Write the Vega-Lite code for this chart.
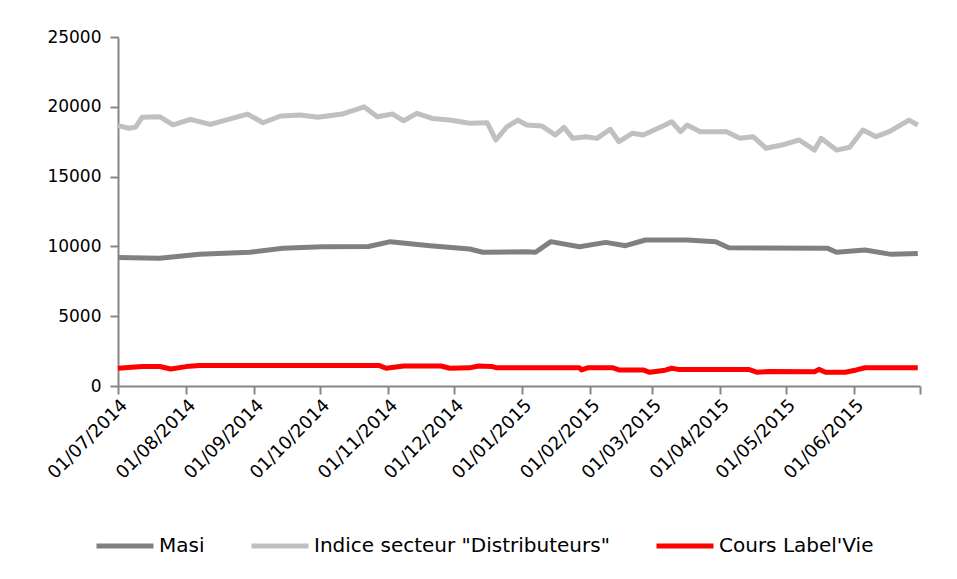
{
  "$schema": "https://vega.github.io/schema/vega-lite/v6.json",
  "width": 802,
  "height": 349,
  "autosize": {"type": "none"},
  "padding": {"left": 118, "top": 37, "right": 37, "bottom": 193},
  "background": "white",
  "config": {
    "view": {"stroke": null},
    "font": "DejaVu Sans"
  },
  "data": {
    "values": [
      {"date": "2014-07-01", "series": "Masi", "value": 9200},
      {"date": "2014-07-20", "series": "Masi", "value": 9150},
      {"date": "2014-08-07", "series": "Masi", "value": 9430},
      {"date": "2014-08-30", "series": "Masi", "value": 9580},
      {"date": "2014-09-14", "series": "Masi", "value": 9860},
      {"date": "2014-10-02", "series": "Masi", "value": 9980},
      {"date": "2014-10-23", "series": "Masi", "value": 9990},
      {"date": "2014-11-02", "series": "Masi", "value": 10340},
      {"date": "2014-11-20", "series": "Masi", "value": 10050},
      {"date": "2014-12-08", "series": "Masi", "value": 9810},
      {"date": "2014-12-14", "series": "Masi", "value": 9580},
      {"date": "2015-01-03", "series": "Masi", "value": 9620},
      {"date": "2015-01-07", "series": "Masi", "value": 9580},
      {"date": "2015-01-14", "series": "Masi", "value": 10340},
      {"date": "2015-01-27", "series": "Masi", "value": 9980},
      {"date": "2015-02-08", "series": "Masi", "value": 10290},
      {"date": "2015-02-17", "series": "Masi", "value": 10050},
      {"date": "2015-02-26", "series": "Masi", "value": 10460},
      {"date": "2015-03-17", "series": "Masi", "value": 10460},
      {"date": "2015-03-30", "series": "Masi", "value": 10340},
      {"date": "2015-04-05", "series": "Masi", "value": 9910},
      {"date": "2015-05-20", "series": "Masi", "value": 9860},
      {"date": "2015-05-24", "series": "Masi", "value": 9580},
      {"date": "2015-06-06", "series": "Masi", "value": 9740},
      {"date": "2015-06-18", "series": "Masi", "value": 9430},
      {"date": "2015-06-30", "series": "Masi", "value": 9500},

      {"date": "2014-07-01", "series": "Indice secteur \"Distributeurs\"", "value": 18650},
      {"date": "2014-07-06", "series": "Indice secteur \"Distributeurs\"", "value": 18460},
      {"date": "2014-07-09", "series": "Indice secteur \"Distributeurs\"", "value": 18550},
      {"date": "2014-07-12", "series": "Indice secteur \"Distributeurs\"", "value": 19250},
      {"date": "2014-07-20", "series": "Indice secteur \"Distributeurs\"", "value": 19290},
      {"date": "2014-07-26", "series": "Indice secteur \"Distributeurs\"", "value": 18700},
      {"date": "2014-08-03", "series": "Indice secteur \"Distributeurs\"", "value": 19100},
      {"date": "2014-08-12", "series": "Indice secteur \"Distributeurs\"", "value": 18740},
      {"date": "2014-08-19", "series": "Indice secteur \"Distributeurs\"", "value": 19050},
      {"date": "2014-08-29", "series": "Indice secteur \"Distributeurs\"", "value": 19480},
      {"date": "2014-09-05", "series": "Indice secteur \"Distributeurs\"", "value": 18860},
      {"date": "2014-09-13", "series": "Indice secteur \"Distributeurs\"", "value": 19340},
      {"date": "2014-09-22", "series": "Indice secteur \"Distributeurs\"", "value": 19410},
      {"date": "2014-09-30", "series": "Indice secteur \"Distributeurs\"", "value": 19250},
      {"date": "2014-10-11", "series": "Indice secteur \"Distributeurs\"", "value": 19480},
      {"date": "2014-10-21", "series": "Indice secteur \"Distributeurs\"", "value": 20000},
      {"date": "2014-10-27", "series": "Indice secteur \"Distributeurs\"", "value": 19290},
      {"date": "2014-11-03", "series": "Indice secteur \"Distributeurs\"", "value": 19480},
      {"date": "2014-11-08", "series": "Indice secteur \"Distributeurs\"", "value": 19000},
      {"date": "2014-11-14", "series": "Indice secteur \"Distributeurs\"", "value": 19530},
      {"date": "2014-11-21", "series": "Indice secteur \"Distributeurs\"", "value": 19170},
      {"date": "2014-11-29", "series": "Indice secteur \"Distributeurs\"", "value": 19050},
      {"date": "2014-12-08", "series": "Indice secteur \"Distributeurs\"", "value": 18820},
      {"date": "2014-12-16", "series": "Indice secteur \"Distributeurs\"", "value": 18860},
      {"date": "2014-12-20", "series": "Indice secteur \"Distributeurs\"", "value": 17620},
      {"date": "2014-12-25", "series": "Indice secteur \"Distributeurs\"", "value": 18570},
      {"date": "2014-12-30", "series": "Indice secteur \"Distributeurs\"", "value": 19050},
      {"date": "2015-01-03", "series": "Indice secteur \"Distributeurs\"", "value": 18700},
      {"date": "2015-01-10", "series": "Indice secteur \"Distributeurs\"", "value": 18620},
      {"date": "2015-01-16", "series": "Indice secteur \"Distributeurs\"", "value": 17980},
      {"date": "2015-01-20", "series": "Indice secteur \"Distributeurs\"", "value": 18530},
      {"date": "2015-01-24", "series": "Indice secteur \"Distributeurs\"", "value": 17740},
      {"date": "2015-01-30", "series": "Indice secteur \"Distributeurs\"", "value": 17860},
      {"date": "2015-02-04", "series": "Indice secteur \"Distributeurs\"", "value": 17740},
      {"date": "2015-02-10", "series": "Indice secteur \"Distributeurs\"", "value": 18390},
      {"date": "2015-02-14", "series": "Indice secteur \"Distributeurs\"", "value": 17500},
      {"date": "2015-02-20", "series": "Indice secteur \"Distributeurs\"", "value": 18100},
      {"date": "2015-02-25", "series": "Indice secteur \"Distributeurs\"", "value": 17980},
      {"date": "2015-03-06", "series": "Indice secteur \"Distributeurs\"", "value": 18620},
      {"date": "2015-03-10", "series": "Indice secteur \"Distributeurs\"", "value": 18930},
      {"date": "2015-03-14", "series": "Indice secteur \"Distributeurs\"", "value": 18220},
      {"date": "2015-03-17", "series": "Indice secteur \"Distributeurs\"", "value": 18700},
      {"date": "2015-03-23", "series": "Indice secteur \"Distributeurs\"", "value": 18220},
      {"date": "2015-04-04", "series": "Indice secteur \"Distributeurs\"", "value": 18220},
      {"date": "2015-04-10", "series": "Indice secteur \"Distributeurs\"", "value": 17740},
      {"date": "2015-04-16", "series": "Indice secteur \"Distributeurs\"", "value": 17860},
      {"date": "2015-04-22", "series": "Indice secteur \"Distributeurs\"", "value": 17030},
      {"date": "2015-04-29", "series": "Indice secteur \"Distributeurs\"", "value": 17260},
      {"date": "2015-05-07", "series": "Indice secteur \"Distributeurs\"", "value": 17620},
      {"date": "2015-05-14", "series": "Indice secteur \"Distributeurs\"", "value": 16900},
      {"date": "2015-05-17", "series": "Indice secteur \"Distributeurs\"", "value": 17740},
      {"date": "2015-05-24", "series": "Indice secteur \"Distributeurs\"", "value": 16900},
      {"date": "2015-05-30", "series": "Indice secteur \"Distributeurs\"", "value": 17100},
      {"date": "2015-06-05", "series": "Indice secteur \"Distributeurs\"", "value": 18340},
      {"date": "2015-06-11", "series": "Indice secteur \"Distributeurs\"", "value": 17860},
      {"date": "2015-06-17", "series": "Indice secteur \"Distributeurs\"", "value": 18220},
      {"date": "2015-06-26", "series": "Indice secteur \"Distributeurs\"", "value": 19050},
      {"date": "2015-06-30", "series": "Indice secteur \"Distributeurs\"", "value": 18700},

      {"date": "2014-07-01", "series": "Cours Label'Vie", "value": 1270},
      {"date": "2014-07-12", "series": "Cours Label'Vie", "value": 1390},
      {"date": "2014-07-20", "series": "Cours Label'Vie", "value": 1400},
      {"date": "2014-07-25", "series": "Cours Label'Vie", "value": 1220},
      {"date": "2014-08-01", "series": "Cours Label'Vie", "value": 1390},
      {"date": "2014-08-07", "series": "Cours Label'Vie", "value": 1460},
      {"date": "2014-10-28", "series": "Cours Label'Vie", "value": 1460},
      {"date": "2014-10-31", "series": "Cours Label'Vie", "value": 1270},
      {"date": "2014-11-08", "series": "Cours Label'Vie", "value": 1430},
      {"date": "2014-11-25", "series": "Cours Label'Vie", "value": 1430},
      {"date": "2014-11-29", "series": "Cours Label'Vie", "value": 1270},
      {"date": "2014-12-08", "series": "Cours Label'Vie", "value": 1300},
      {"date": "2014-12-12", "series": "Cours Label'Vie", "value": 1430},
      {"date": "2014-12-18", "series": "Cours Label'Vie", "value": 1400},
      {"date": "2014-12-20", "series": "Cours Label'Vie", "value": 1310},
      {"date": "2015-01-27", "series": "Cours Label'Vie", "value": 1310},
      {"date": "2015-01-28", "series": "Cours Label'Vie", "value": 1150},
      {"date": "2015-01-31", "series": "Cours Label'Vie", "value": 1310},
      {"date": "2015-02-11", "series": "Cours Label'Vie", "value": 1310},
      {"date": "2015-02-14", "series": "Cours Label'Vie", "value": 1150},
      {"date": "2015-02-25", "series": "Cours Label'Vie", "value": 1150},
      {"date": "2015-02-28", "series": "Cours Label'Vie", "value": 980},
      {"date": "2015-03-07", "series": "Cours Label'Vie", "value": 1130},
      {"date": "2015-03-10", "series": "Cours Label'Vie", "value": 1270},
      {"date": "2015-03-13", "series": "Cours Label'Vie", "value": 1190},
      {"date": "2015-04-14", "series": "Cours Label'Vie", "value": 1190},
      {"date": "2015-04-18", "series": "Cours Label'Vie", "value": 980},
      {"date": "2015-04-23", "series": "Cours Label'Vie", "value": 1040},
      {"date": "2015-05-14", "series": "Cours Label'Vie", "value": 1020},
      {"date": "2015-05-16", "series": "Cours Label'Vie", "value": 1190},
      {"date": "2015-05-19", "series": "Cours Label'Vie", "value": 990},
      {"date": "2015-05-28", "series": "Cours Label'Vie", "value": 990},
      {"date": "2015-06-02", "series": "Cours Label'Vie", "value": 1150},
      {"date": "2015-06-06", "series": "Cours Label'Vie", "value": 1310},
      {"date": "2015-06-30", "series": "Cours Label'Vie", "value": 1310}
    ]
  },
  "mark": {"type": "line", "strokeWidth": 5, "strokeJoin": "round"},
  "encoding": {
    "x": {
      "field": "date",
      "type": "temporal",
      "scale": {
        "type": "utc",
        "domain": [
          {"year": 2014, "month": 7, "date": 1, "utc": true},
          {"year": 2015, "month": 7, "date": 1, "utc": true}
        ],
        "nice": false
      },
      "axis": {
        "title": null,
        "grid": false,
        "values": [
          {"year": 2014, "month": 7, "date": 1, "utc": true},
          {"year": 2014, "month": 8, "date": 1, "utc": true},
          {"year": 2014, "month": 9, "date": 1, "utc": true},
          {"year": 2014, "month": 10, "date": 1, "utc": true},
          {"year": 2014, "month": 11, "date": 1, "utc": true},
          {"year": 2014, "month": 12, "date": 1, "utc": true},
          {"year": 2015, "month": 1, "date": 1, "utc": true},
          {"year": 2015, "month": 2, "date": 1, "utc": true},
          {"year": 2015, "month": 3, "date": 1, "utc": true},
          {"year": 2015, "month": 4, "date": 1, "utc": true},
          {"year": 2015, "month": 5, "date": 1, "utc": true},
          {"year": 2015, "month": 6, "date": 1, "utc": true},
          {"year": 2015, "month": 7, "date": 1, "utc": true}
        ],
        "labelExpr": "utcFormat(datum.value, '%d/%m/%Y') == '01/07/2015' ? '' : utcFormat(datum.value, '%d/%m/%Y')",
        "labelAngle": -45,
        "labelFont": "DejaVu Sans",
        "labelFontSize": 18,
        "labelColor": "#000000",
        "labelPadding": 2,
        "labelOverlap": false,
        "labelFlush": false,
        "domainColor": "#868686",
        "domainWidth": 2,
        "tickColor": "#868686",
        "tickWidth": 2,
        "tickSize": 8
      }
    },
    "y": {
      "field": "value",
      "type": "quantitative",
      "scale": {"domain": [0, 25000], "nice": false},
      "axis": {
        "title": null,
        "grid": false,
        "values": [0, 5000, 10000, 15000, 20000, 25000],
        "format": "d",
        "labelFont": "DejaVu Sans",
        "labelFontSize": 17,
        "labelColor": "#000000",
        "labelPadding": 9,
        "domainColor": "#868686",
        "domainWidth": 2,
        "tickColor": "#868686",
        "tickWidth": 2,
        "tickSize": 8
      }
    },
    "color": {
      "field": "series",
      "type": "nominal",
      "sort": ["Masi", "Indice secteur \"Distributeurs\"", "Cours Label'Vie"],
      "scale": {
        "domain": ["Masi", "Indice secteur \"Distributeurs\"", "Cours Label'Vie"],
        "range": ["#808080", "#c0c0c0", "#ff0000"]
      },
      "legend": {
        "title": null,
        "orient": "none",
        "direction": "horizontal",
        "legendX": -24,
        "legendY": 478,
        "symbolType": "stroke",
        "symbolSize": 3249,
        "symbolStrokeWidth": 5,
        "labelFont": "DejaVu Sans",
        "labelFontSize": 20,
        "labelColor": "#000000",
        "labelOffset": 3,
        "labelLimit": 500,
        "columnPadding": 36
      }
    }
  }
}
